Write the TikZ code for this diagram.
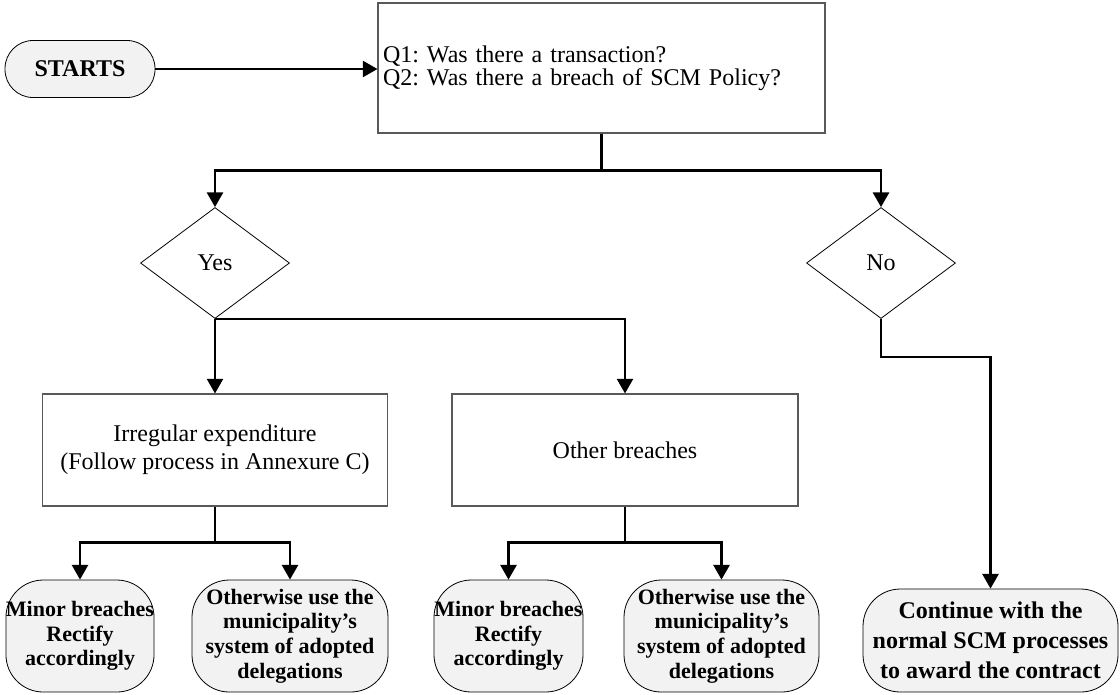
\documentclass[tikz,border=0pt]{standalone}
\usepackage{fontspec}
\setmainfont{Liberation Serif}
\usetikzlibrary{positioning,shapes.geometric,arrows.meta}
\definecolor{termgray}{HTML}{F2F2F2}
\frenchspacing

\begin{document}
\begin{tikzpicture}[x=0.75pt,y=-0.75pt,
    link/.style={line width=1.9pt},
    arr/.style={link,-{Triangle[width=12pt,length=11pt]}},
    box/.style={draw=black!65,line width=0.8pt,inner sep=0pt,align=center,
      font=\fontsize{18}{21}\selectfont},
    choice/.style={diamond,draw,line width=0.6pt,inner sep=0pt,
      minimum width=111.75pt,minimum height=83.25pt,font=\fontsize{18}{21}\selectfont},
    term/.style={draw,line width=0.6pt,fill=termgray,rounded corners=28pt,
      inner sep=0pt,align=center,minimum height=84pt,
      font=\bfseries\fontsize{16.5}{18.4}\selectfont}]
  \useasboundingbox (0,0) rectangle (1120,694);

  % start and questions
  \node[term,rounded corners=21pt,minimum width=112.5pt,minimum height=42.75pt,
    font=\bfseries\fontsize{18}{20}\selectfont] (start) at (80,69) {STARTS};
  \node[box,minimum width=335.25pt,minimum height=97.5pt,text width=327.75pt,
    align=left,font=\fontsize{18}{17.5}\selectfont] (quest) at (601.5,68)
    {Q1: Was there a transaction?\\Q2: Was there a breach of SCM Policy?};

  % decisions
  \node[choice] (yes) at (215,263) {Yes};
  \node[choice] (no) at (881,263) {No};

  % yes branch
  \node[box,minimum width=258.75pt,minimum height=84pt] (irreg) at (215,450)
    {Irregular expenditure\\(Follow process in Annexure C)};
  \node[box,minimum width=259.5pt,minimum height=84pt] (other) at (625,450)
    {Other breaches};

  % outcomes
  \node[term,minimum width=111pt] (minorA) at (80,636)
    {Minor breaches\\Rectify\\accordingly};
  \node[term,minimum width=147pt] (deleA) at (290,636)
    {Otherwise use the\\municipality’s\\system of adopted\\delegations};
  \node[term,minimum width=111.75pt] (minorB) at (508.5,636)
    {Minor breaches\\Rectify\\accordingly};
  \node[term,minimum width=146.25pt] (deleB) at (721.5,636)
    {Otherwise use the\\municipality’s\\system of adopted\\delegations};
  \node[term,minimum width=191.25pt,minimum height=77.25pt,
    font=\bfseries\fontsize{18}{22.5}\selectfont] (cont) at (990.5,640.5)
    {Continue with the\\normal SCM processes\\to award the contract};

  % connectors
  \draw[arr] (start.east) -- (start.east -| quest.west);
  \draw[link] (quest.south) -- ++(0,37) coordinate (fork);
  \draw[arr] (fork) -| (yes.north);
  \draw[arr] (fork) -| (no.north);
  \draw[arr] (yes.south) -- (irreg.north);
  \draw[arr] (yes.south) -| (other.north);
  \draw[link] (irreg.south) -- ++(0,36) coordinate (forkA);
  \draw[arr] (forkA) -| (minorA.north);
  \draw[arr] (forkA) -| (deleA.north);
  \draw[link] (other.south) -- ++(0,36) coordinate (forkB);
  \draw[arr] (forkB) -| (minorB.north);
  \draw[arr] (forkB) -| (deleB.north);
  \draw[arr] (no.south) -- ++(0,38) -| (cont.north);
\end{tikzpicture}
\end{document}
